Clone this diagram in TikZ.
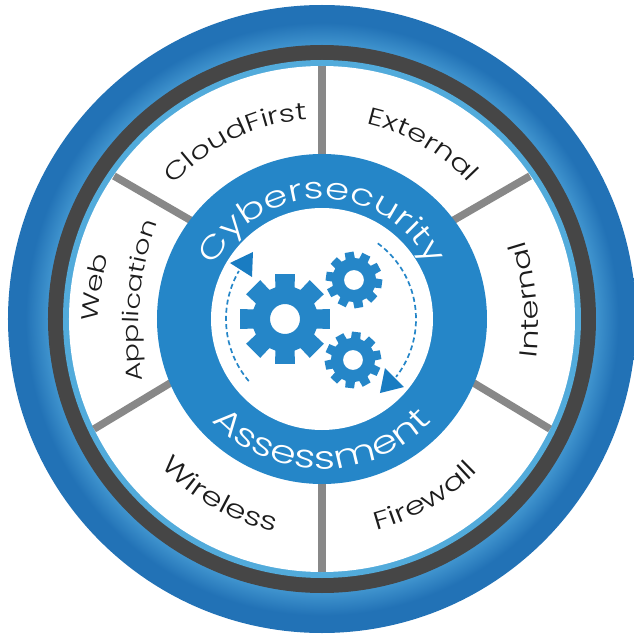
\documentclass[tikz,border=0pt]{standalone}
\usepackage{fontspec}
\setmainfont{Poppins Light}[FakeStretch=1.3]
\usepackage{xcolor}
\usepackage{tikz}
\usetikzlibrary{calc}
\usetikzlibrary{decorations.text}
\definecolor{ringblue}{HTML}{2272B6}
\definecolor{ringpale}{HTML}{4094CE}
\definecolor{ringdark}{HTML}{464646}
\definecolor{ringsky}{HTML}{52ABDB}
\definecolor{hubblue}{HTML}{2586C8}
\definecolor{tipblue}{HTML}{197CC2}
\definecolor{spokegray}{HTML}{888888}
\definecolor{labelblack}{HTML}{1C1C1C}
\pgfdeclareradialshading{ringshade}{\pgfpointorigin}{
  color(0bp)=(ringpale); color(21.8bp)=(ringpale);
  color(23.6bp)=(ringblue); color(25bp)=(ringblue); color(50bp)=(ringblue)}
\tikzset{
  disc/.style={draw=none, shape=circle, inner sep=0pt, minimum size=2*#1},
  spoke/.style={draw=spokegray, line width=7.5pt},
  arrowtri/.style={fill=tipblue, draw=none},
  sweep/.style={draw=hubblue, line width=1.7pt, dash pattern=on 5pt off 3.2pt},
  ringtext/.style 2 args={decorate, decoration={text along path, text align=center, text={|\fontsize{#1}{#1}\selectfont\color{labelblack}|#2}}},
  hubtext/.style 2 args={decorate, decoration={text along path, text align=center, text={|\fontsize{#1}{#1}\selectfont\color{white}|#2}}},
}
% gear: center, outer radius, root radius, hole radius, teeth, turn, half tooth
\newcommand{\gearshape}[7]{
  \fill[hubblue, even odd rule] #1
    \foreach \i in {1,...,#5} {
      \ifnum\i=1 +(#6+\i*360/#5-#7:#2) \else -- ($#1+(#6+\i*360/#5-#7:#2)$) \fi
      -- ($#1+(#6+\i*360/#5+#7:#2)$)
      -- ($#1+(#6+\i*360/#5+1.35*#7:#3)$)
      -- ($#1+(#6+\i*360/#5+360/#5-1.35*#7:#3)$)
    } -- cycle
    #1 circle[radius=#4];
}
\begin{document}
\begin{tikzpicture}[x=1pt, y=1pt]
\useasboundingbox (-322,-316) rectangle (311,319);
\shade[shading=ringshade] (0,0) circle[radius=314];
\node[disc=274, fill=ringdark] (dark) at (0,0) {};
\node[disc=259, fill=ringsky] (sky) at (0,0) {};
\node[disc=253, fill=white] (face) at (0,0) {};
% spokes
\draw[spoke] (0,150) -- (0,253);
\draw[spoke] (0,-150) -- (0,-253);
\draw[spoke] (125,95) -- (208,143);
\draw[spoke] (-125,95) -- (-208,143);
\draw[spoke] (145,-60) -- (228,-110);
\draw[spoke] (-145,-60) -- (-228,-110);
\node[disc=165, fill=hubblue] (hub) at (0,0) {};
\node[disc=111, fill=white] (core) at (0,0) {};
% labels
\path[ringtext={24}{CloudFirst}] (153:200) arc[start angle=153, end angle=79, radius=200];
\path[ringtext={24}{External}] (97:200) arc[start angle=97, end angle=23, radius=200];
\path[ringtext={24.5}{Internal}] (213,-48) .. controls (220,-5) and (215,45) .. (200,87);
\path[ringtext={25}{Firewall}] (-97:218) arc[start angle=-97, end angle=-23, radius=218];
\path[ringtext={25.5}{Wireless}] (-157:218) arc[start angle=-157, end angle=-83, radius=218];
\path[ringtext={23}{Web}] (-224,-15) .. controls (-224,15) and (-220,40) .. (-210,75);
\path[ringtext={22}{Application}] (-179,-66) .. controls (-188,-20) and (-184,50) .. (-163,100);
\path[hubtext={30}{Cybersecurity}] (170:120) arc[start angle=170, end angle=10, radius=120];
\path[hubtext={32}{Assessment}] (-170:150) arc[start angle=-170, end angle=-10, radius=150];
% gears
\gearshape{(-37,0)}{46}{33}{15}{8}{0}{12.5}
\gearshape{(32,39)}{28.5}{22}{10}{10}{28}{9}
\gearshape{(31,-41)}{28.5}{22}{10}{10}{11}{9}
% sweeps
\draw[sweep] (-139.7:96) arc[start angle=-139.7, end angle=-210, radius=96];
\draw[sweep] (53.6:94) arc[start angle=53.6, end angle=-38, radius=94];
\fill[arrowtri] (-69,67) -- (-92,56) -- (-70,42) -- cycle;
\fill[arrowtri] (63,-49) -- (82,-68) -- (58,-74) -- cycle;
\end{tikzpicture}
\end{document}
